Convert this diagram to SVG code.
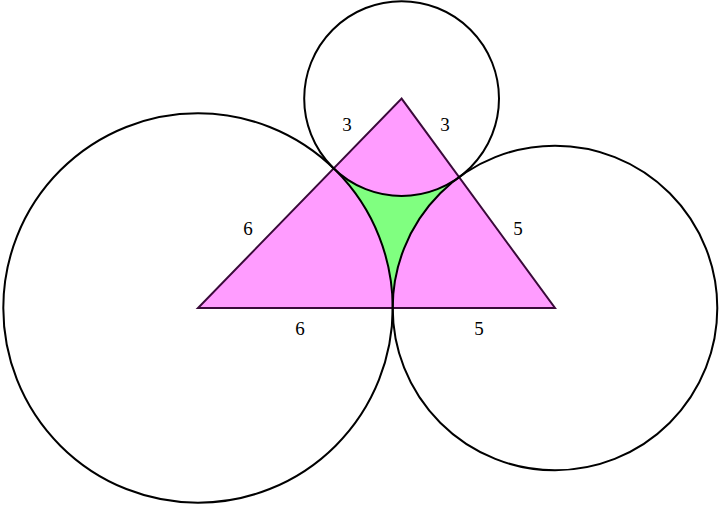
<svg xmlns="http://www.w3.org/2000/svg" width="720" height="506" viewBox="0 0 720 506">
<style>
.c{fill:none;stroke:#000;stroke-width:2}
.t{font-family:"Liberation Serif","Times New Roman",serif;font-size:19px;fill:#000;text-anchor:middle}
</style>
<rect width="720" height="506" fill="#fff"/>
<g id="triangle">
<polygon points="198,308 555,308 401.6,98.6" fill="#ff9cff" stroke="#3a0a3a" stroke-width="2" stroke-linejoin="miter"/>
</g>
<g id="green-region">
<path d="M333.7,168.4 A97.4,97.4 0 0 0 459.1,177.1 A162.3,162.3 0 0 0 392.7,308 A194.7,194.7 0 0 0 333.7,168.4 Z" fill="#80ff80"/>
</g>
<g id="circles">
<circle id="circle-left" class="c" cx="198" cy="308" r="194.7"/>
<circle id="circle-right" class="c" cx="555" cy="308" r="162.3"/>
<circle id="circle-top" class="c" cx="401.6" cy="98.6" r="97.4"/>
</g>
<g id="labels">
<text class="t" x="347" y="131">3</text>
<text class="t" x="445" y="131">3</text>
<text class="t" x="248" y="235">6</text>
<text class="t" x="518" y="235">5</text>
<text class="t" x="300" y="335">6</text>
<text class="t" x="479" y="335">5</text>
</g>
</svg>
